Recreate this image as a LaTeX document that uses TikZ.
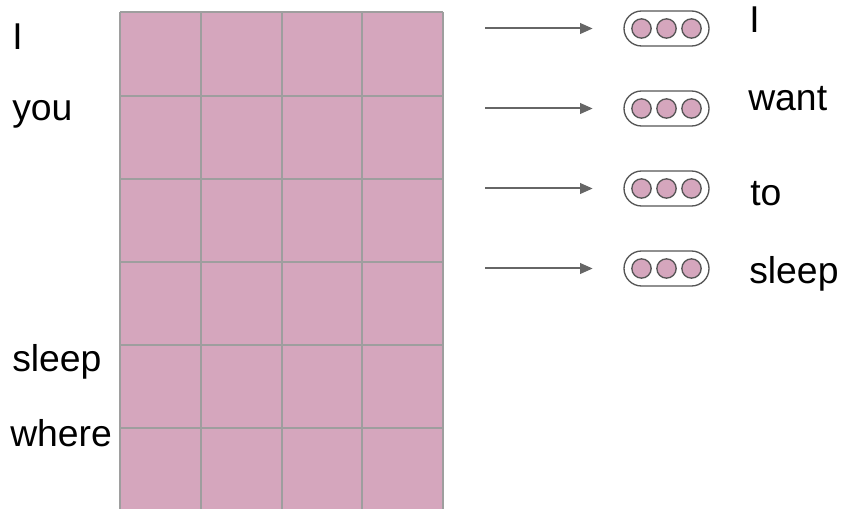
\documentclass[tikz,border=0pt]{standalone}
\usepackage{fontspec}
\setmainfont{Liberation Sans}
\usepackage{xcolor}
\usetikzlibrary{shapes.misc, arrows.meta, positioning}

\definecolor{cellpink}{HTML}{D5A6BD}
\definecolor{gridgray}{HTML}{9E9E9E}
\definecolor{arrowgray}{HTML}{666666}
\definecolor{rimgray}{HTML}{555555}

\begin{document}
\begin{tikzpicture}[
    x=0.75pt, y=-0.75pt,
    word/.style={anchor=base west, inner sep=0pt, font=\fontsize{28}{33}\selectfont},
    gridline/.style={draw=gridgray, line width=1.5pt},
    capsule/.style={rounded rectangle, draw=rimgray, line width=1pt, minimum width=63.75pt, minimum height=26.25pt, inner sep=0pt},
    dot/.style={circle, draw=rimgray, fill=cellpink, line width=1pt, minimum size=14.5pt, inner sep=0pt},
    arrow/.style={-{Triangle[length=9.5pt, width=8pt]}, line width=1.5pt, draw=arrowgray, shorten >=23pt}
]
\useasboundingbox (0,0) rectangle (841,509);

% Embedding table
\fill[cellpink] (120,12.5) rectangle (443,509);
\foreach \x in {120,201,282,362,443}
    \draw[gridline] (\x,12.5) -- (\x,509);
\foreach \r in {0,...,5}
    \draw[gridline] (120,12.5+83.1*\r) -- (443,12.5+83.1*\r);

% Vocabulary
\node[word] (vI) at (12,50) {I};
\node[word] (vyou) at (12,121) {you};
\node[word] (vsleep) at (12,371) {sleep};
\node[word] (vwhere) at (10,446) {where};

% Lookups
\foreach \i in {1,...,4} {
    \coordinate (src\i) at (485,28.5+80*\i-80);
    \node[capsule] (cap\i) at (666.5,28.5+80*\i-80) {};
    \node[dot] (cap\i-a) at ([xshift=-18.75pt]cap\i.center) {};
    \node[dot] (cap\i-b) at (cap\i.center) {};
    \node[dot] (cap\i-c) at ([xshift=18.75pt]cap\i.center) {};
    \draw[arrow] (src\i) -- (cap\i.west);
}

% Sentence
\node[word] (wI) at (749,33) {I};
\node[word] (wwant) at (748,111) {want};
\node[word] (wto) at (750,206) {to};
\node[word] (wsleep) at (749,283) {sleep};

\end{tikzpicture}
\end{document}
